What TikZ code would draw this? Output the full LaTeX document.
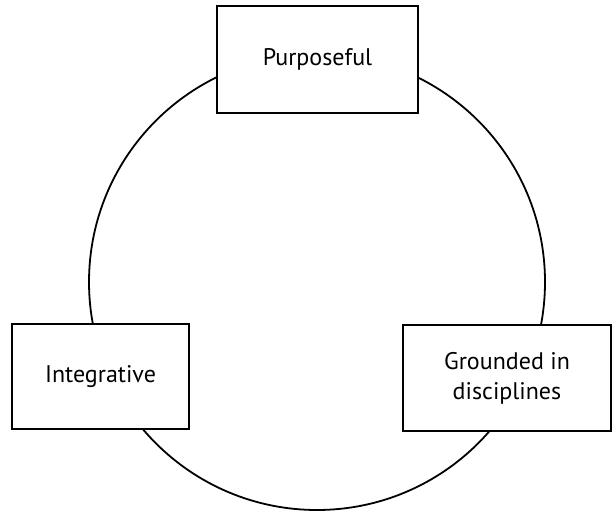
\documentclass[tikz,border=0pt]{standalone}
\usepackage{fontspec}
\setmainfont{PT Sans}
\usetikzlibrary{positioning}

\begin{document}
\begin{tikzpicture}[x=1pt,y=1pt,
        facet/.style={draw, fill=white, line width=1.1pt, align=center, font=\fontsize{12}{15}\selectfont, inner sep=0pt}]
        \useasboundingbox (0,0) rectangle (306.5,256.5);
        \node[circle, draw, line width=0.9pt, minimum size=228pt, inner sep=0pt] (cycle) at (158.5,115.5) {};
        \node[facet, minimum width=100.5pt, minimum height=53.5pt] (purposeful) at (158.75,226.75) {Purposeful};
        \node[facet, minimum width=88.5pt, minimum height=52.5pt] (integrative) at (50.25,68.25) {Integrative};
        \node[facet, minimum width=104pt, minimum height=53pt] (grounded) at (253.5,67.5) {Grounded in\\disciplines};
\end{tikzpicture}
\end{document}
